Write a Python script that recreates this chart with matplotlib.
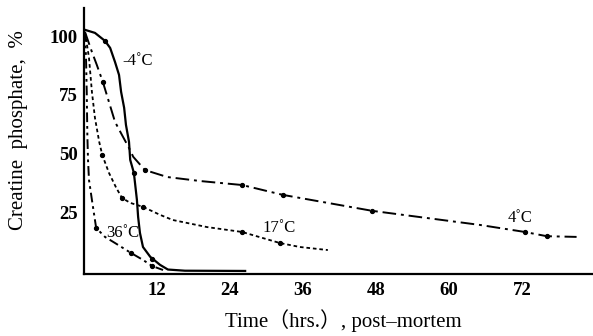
import matplotlib.pyplot as plt

plt.rcParams['font.family'] = ['Liberation Serif', 'DejaVu Serif']

# curves (hours, % creatine phosphate)
minus4_t = [0.16, 1.8, 3.45, 4.3, 5.1, 5.76, 6.1, 6.6, 6.9, 7.4, 7.6, 8.2, 8.7, 8.9, 9.2, 9.7, 10.9, 12.5, 13.8, 16.6, 26.5]
minus4_v = [102.7, 101.4, 98.0, 95.0, 89.0, 83.5, 76.3, 69.5, 62.2, 55.0, 47.3, 41.8, 30.3, 23.0, 16.2, 10.2, 6.0, 2.6, 0.6, 0.1, 0.0]
minus4_pt_t = [3.45, 8.2, 11.2]
minus4_pt_v = [98.0, 41.8, 5.2]

plus4_t = [0.16, 1.3, 2.1, 3.1, 4.1, 5.1, 6.25, 7.4, 8.1, 10.0, 13.7, 19.1, 26.0, 32.7, 35.5, 47.4, 65.1, 72.5, 76.1, 81.0]
plus4_v = [101.8, 93.3, 87.8, 80.5, 72.0, 63.5, 57.9, 52.4, 48.6, 43.0, 40.0, 38.3, 36.6, 32.4, 31.1, 25.6, 19.6, 16.6, 14.8, 14.5]
plus4_pt_t = [3.1, 10.0, 26.0, 32.7, 47.4, 72.5, 76.1]
plus4_pt_v = [80.5, 43.0, 36.6, 32.4, 25.6, 16.6, 14.8]

c17_t = [0.16, 0.82, 1.3, 1.8, 2.5, 3.0, 4.1, 5.3, 6.25, 7.6, 9.7, 12.5, 14.6, 20.2, 26.0, 32.2, 35.5, 40.1]
c17_v = [101.8, 90.8, 76.3, 65.2, 55.0, 49.4, 41.8, 35.4, 31.1, 29.0, 27.3, 23.9, 21.7, 18.7, 16.6, 11.9, 10.2, 8.9]
c17_pt_t = [3.0, 6.25, 9.7, 26.0, 32.2]
c17_pt_v = [49.4, 31.1, 27.3, 16.6, 11.9]

c36_t = [0.16, 0.33, 0.45, 0.55, 0.66, 0.82, 1.3, 1.8, 2.0, 3.45, 5.1, 7.7, 9.7, 11.2, 13.0]
c36_v = [101.8, 90.8, 76.3, 58.0, 47.3, 38.8, 30.3, 21.7, 18.3, 14.5, 11.9, 7.7, 4.7, 2.1, 0.4]
c36_pt_t = [2.0, 7.7, 11.2]
c36_pt_v = [18.3, 7.7, 2.1]

xticks = [12, 24, 36, 48, 60, 72]
yticks = [25, 50, 75, 100]

fig = plt.figure(figsize=(5.93, 3.36), dpi=100)
ax = fig.add_axes([84 / 593, 62 / 336, 509 / 593, 266 / 336])

ax.plot(minus4_t, minus4_v, color='black', lw=1.6)
ax.plot(minus4_pt_t, minus4_pt_v, 'o', color='black', ms=2.8)

ax.plot(plus4_t, plus4_v, color='black', lw=1.4, dashes=(7, 2.5, 1.5, 2.5))
ax.plot(plus4_pt_t, plus4_pt_v, 'o', color='black', ms=2.8)

ax.plot(c17_t, c17_v, color='black', lw=1.3, dashes=(2, 1.6))
ax.plot(c17_pt_t, c17_pt_v, 'o', color='black', ms=2.8)

ax.plot(c36_t, c36_v, color='black', lw=1.4, dashes=(5, 2, 1.4, 2, 1.4, 2))
ax.plot(c36_pt_t, c36_pt_v, 'o', color='black', ms=2.8)

# curve labels
lab = dict(fontsize=12, ha='center', va='center')
ax.text(8.9, 89.4, '-4\u02daC', **lab)
ax.text(6.4, 16.2, '36\u02daC', **lab)
ax.text(32.1, 18.3, '17\u02daC', **lab)
ax.text(71.7, 22.6, '4\u02daC', **lab)

ax.set_xlim(0, 83.7)
ax.set_ylim(-1.3, 112)
ax.set_xticks(xticks)
ax.set_yticks(yticks)
ax.set_xticklabels([str(t) for t in xticks], fontsize=13.5, fontweight='bold')
ax.set_yticklabels([str(t) for t in yticks], fontsize=13.5, fontweight='bold')
ax.tick_params(axis='x', length=0, pad=6)
ax.tick_params(axis='y', length=0, pad=4.5)

for s in ['top', 'right']:
    ax.spines[s].set_visible(False)
for s in ['left', 'bottom']:
    ax.spines[s].set_linewidth(1.6)

fig.text(343 / 593, 1 - 321 / 336, 'Time\uff08hrs.\uff09, post\u2013mortem', fontsize=15,
         family=['Liberation Serif', 'Noto Sans CJK JP'], ha='center', va='center')
fig.text(19 / 593, 1 - 130 / 336, 'Creatine  phosphate,  %', fontsize=15,
         rotation=90, ha='center', va='center')

fig.savefig('out.png', dpi=100)
